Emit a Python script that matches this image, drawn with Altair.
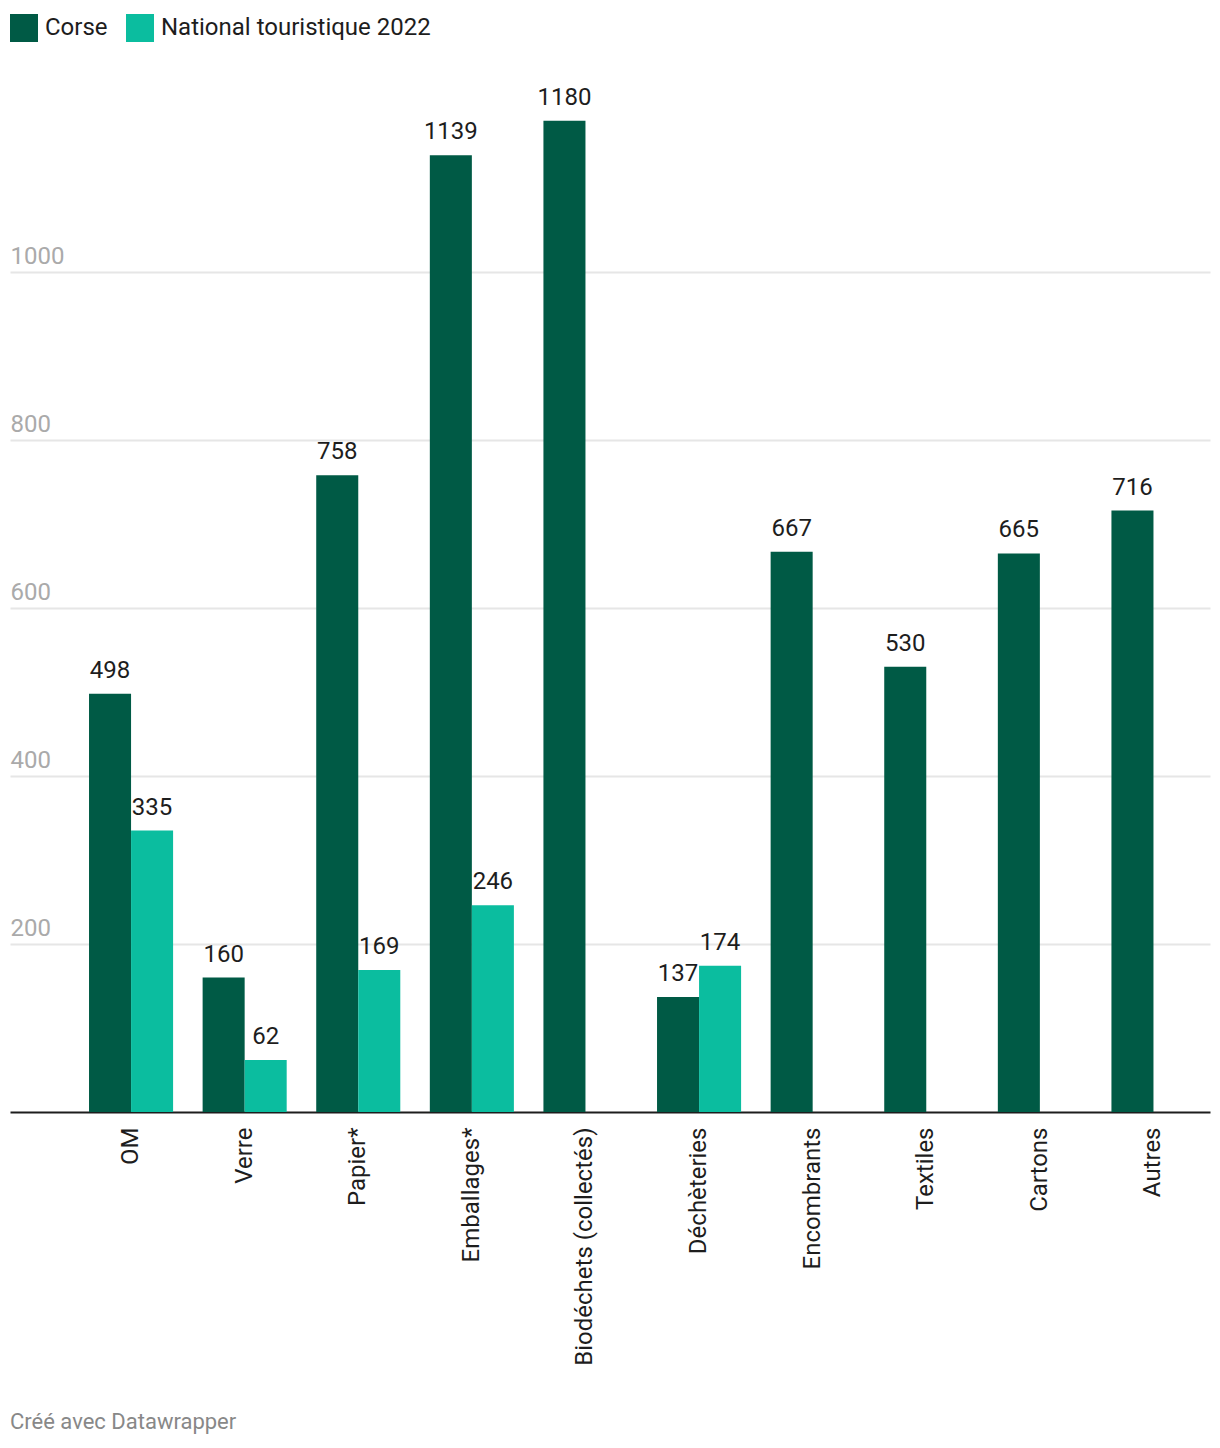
import altair as alt
import pandas as pd

categories = ["OM", "Verre", "Papier*", "Emballages*", "Biodéchets (collectés)",
              "Déchèteries", "Encombrants", "Textiles", "Cartons", "Autres"]
series_names = ["Corse", "National touristique 2022"]
corse = [498, 160, 758, 1139, 1180, 137, 667, 530, 665, 716]
national = [335, 62, 169, 246, None, 174, None, None, None, None]
y_ticks = [200, 400, 600, 800, 1000]
colors = ["#005a45", "#0bbd9f"]
footer = "Créé avec Datawrapper"

rows = []
for c, a, b in zip(categories, corse, national):
    rows.append({"cat": c, "series": series_names[0], "value": a})
    if b is not None:
        rows.append({"cat": c, "series": series_names[1], "value": b})
df = pd.DataFrame(rows)

FONT = "Roboto"

x_enc = alt.X("cat:N", sort=categories,
              scale=alt.Scale(paddingInner=0.26, paddingOuter=0.4116, align=0.845),
              axis=alt.Axis(title=None, labelAngle=270, labelAlign="right",
                            labelBaseline="middle", labelPadding=15,
                            ticks=False, tickSize=0, domainColor="#1d1d1d",
                            domainWidth=2, labelFontSize=24, labelColor="#1d1d1d",
                            labelFont=FONT, labelLimit=400))
xo_enc = alt.XOffset("series:N", sort=series_names,
                     scale=alt.Scale(domain=series_names, paddingInner=0, paddingOuter=0))
y_enc = alt.Y("value:Q", scale=alt.Scale(domain=[0, 1250], nice=False),
              axis=alt.Axis(title=None, values=y_ticks, format="d", grid=True,
                            gridColor="#e6e6e6", gridWidth=2, domain=False,
                            ticks=False, tickSize=0,
                            labelAlign="left", labelBaseline="alphabetic",
                            labelPadding=0, labelOffset=-9, labelColor="#aaaaaa",
                            labelFontSize=24, labelFont=FONT, labelOverlap=False))

base = alt.Chart(df)

bars = base.mark_bar().encode(
    x=x_enc, xOffset=xo_enc, y=y_enc,
    color=alt.Color("series:N", sort=series_names,
                    scale=alt.Scale(domain=series_names, range=colors),
                    legend=alt.Legend(title=None, orient="none", legendX=0, legendY=-48,
                                      direction="horizontal", symbolType="square",
                                      symbolSize=784, symbolStrokeWidth=0,
                                      symbolOpacity=1, labelFontSize=24,
                                      labelFont=FONT, labelColor="#1d1d1d",
                                      labelLimit=500,
                                      columnPadding=18, labelOffset=7)),
)

labels = base.mark_text(dy=-16, baseline="alphabetic", fontSize=24, font=FONT,
                        color="#1d1d1d").encode(
    x=alt.X("cat:N", sort=categories), xOffset=alt.XOffset("series:N", sort=series_names),
    y="value:Q", text="value:Q")

foot = alt.Chart(pd.DataFrame({"t": [footer]})).mark_text(
    align="left", baseline="middle", fontSize=22, font=FONT, color="#888888"
).encode(x=alt.value(0), y=alt.value(1360), text="t:N")

chart = alt.layer(bars, labels, foot).properties(
    width=1200, height=1050,
    autosize=alt.AutoSizeParams(type="none"),
    padding={"left": 10, "top": 62, "right": 10, "bottom": 336},
).configure(font=FONT).configure_view(stroke=None)

chart.save("out.html", embed_options={"renderer": "svg", "actions": False})
